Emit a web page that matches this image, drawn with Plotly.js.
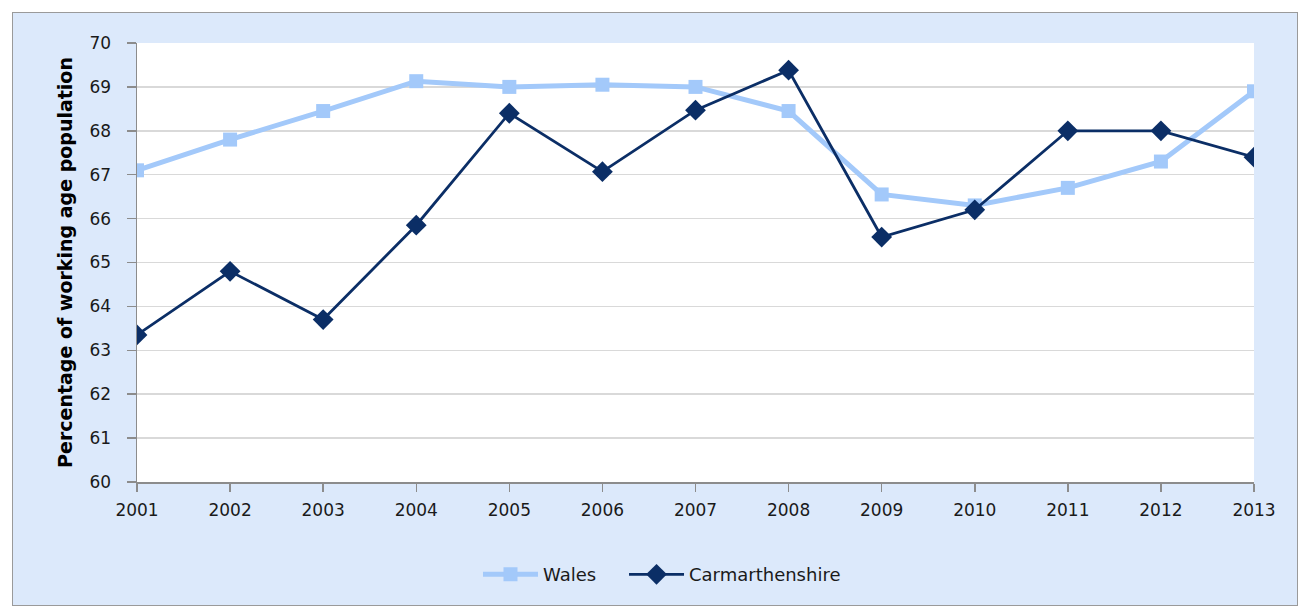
<!DOCTYPE html>
<html>
<head>
<meta charset="utf-8">
<script src="https://cdn.plot.ly/plotly-3.0.1.min.js"></script>
<style>
html,body{margin:0;padding:0;background:#ffffff;}
#chart{position:absolute;left:12px;top:12px;width:1286px;height:594px;border:1px solid #9a9a9a;box-sizing:border-box;}
</style>
</head>
<body>
<div id="chart"></div>
<script>
const years = [2001, 2002, 2003, 2004, 2005, 2006, 2007, 2008, 2009, 2010, 2011, 2012, 2013];
const wales = [67.1, 67.8, 68.45, 69.13, 69.0, 69.05, 69.0, 68.45, 66.55, 66.3, 66.7, 67.3, 68.9];
const carmarthenshire = [63.35, 64.8, 63.7, 65.85, 68.4, 67.07, 68.47, 69.38, 65.58, 66.2, 68.0, 68.0, 67.4];
const yTicks = [60, 61, 62, 63, 64, 65, 66, 67, 68, 69, 70];
const seriesNames = ['Wales', 'Carmarthenshire'];

const font = "DejaVu Sans, Verdana, sans-serif";
const traces = [
  {x: years, y: wales, name: seriesNames[0] + '\u00a0\u00a0\u00a0\u00a0', type: 'scatter', mode: 'lines+markers',
   line: {color: '#a3c9fa', width: 5}, marker: {symbol: 'square', size: 14, color: '#a3c9fa'}},
  {x: years, y: carmarthenshire, name: seriesNames[1], type: 'scatter', mode: 'lines+markers',
   line: {color: '#0b2e66', width: 2.8}, marker: {symbol: 'diamond', size: 16, color: '#0b2e66'}}
];
const layout = {
  width: 1284, height: 592,
  margin: {l: 124, r: 43, t: 30, b: 121},
  paper_bgcolor: '#dce9fb', plot_bgcolor: '#ffffff',
  font: {family: font, size: 17, color: '#1a1a1a'},
  showlegend: true,
  legend: {orientation: 'h', x: 0.47, xanchor: 'center', y: -0.211, yanchor: 'middle', itemwidth: 55,
           font: {family: font, size: 18, color: '#1a1a1a'}, bgcolor: 'rgba(0,0,0,0)', traceorder: 'normal'},
  xaxis: {range: [2001, 2013], tickmode: 'array', tickvals: years, ticktext: years.map(String),
          showgrid: false, zeroline: false, showline: true, linecolor: '#8c8c8c', linewidth: 1.5,
          ticks: 'outside', ticklen: 8, tickwidth: 1.5, tickcolor: '#8c8c8c', ticklabelstandoff: 4,
          tickfont: {size: 17}},
  yaxis: {range: [60, 70], tickmode: 'array', tickvals: yTicks, ticktext: yTicks.map(String),
          showgrid: true, gridcolor: '#d9d9d9', gridwidth: 1.5, zeroline: false,
          showline: true, linecolor: '#8c8c8c', linewidth: 1.5,
          ticks: 'outside', ticklen: 9, tickwidth: 1.5, tickcolor: '#8c8c8c', ticklabelstandoff: 12,
          tickfont: {size: 17},
          title: {text: 'Percentage of working age population', standoff: 12,
                  font: {family: font, size: 19, color: '#000000', weight: 'bold'}}}
};
Plotly.newPlot('chart', traces, layout, {displayModeBar: false, staticPlot: true});
</script>
</body>
</html>
